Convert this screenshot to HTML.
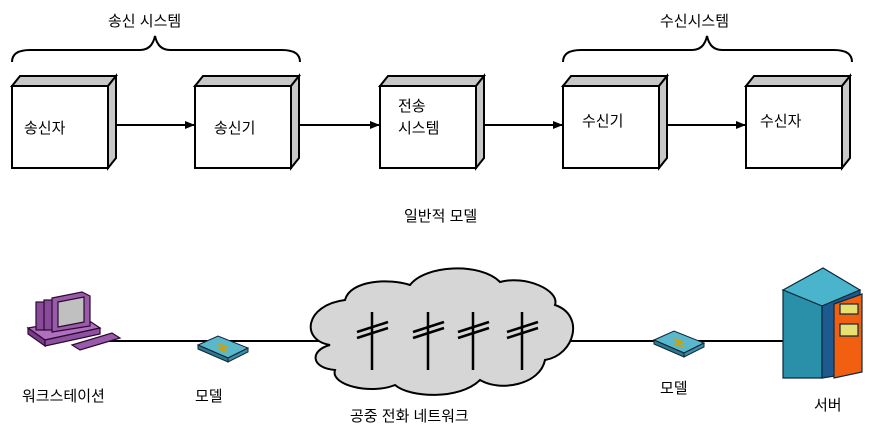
<!DOCTYPE html>
<html><head><meta charset="utf-8"><style>
body{margin:0;background:#fff}
svg text{font-family:"Liberation Sans","Noto Sans CJK KR",sans-serif;font-size:15px;fill:#000}
</style></head><body>
<svg width="880" height="431" viewBox="0 0 880 431" xmlns="http://www.w3.org/2000/svg">
<defs><marker id="a" markerWidth="10" markerHeight="8" refX="9" refY="4" orient="auto" markerUnits="userSpaceOnUse"><path d="M0,0L10,4L0,8z" fill="#000"/></marker></defs>
<g stroke="#000" stroke-width="2" fill="none">
<path d="M12,62 Q12,50 30,50 L140,50 Q152,50 155,36 Q158,50 170,50 L282,50 Q300,50 300,62"/>
<path d="M563,62 Q563,50 581,50 L692,50 Q704,50 707,36 Q710,50 722,50 L834,50 Q852,50 852,62"/>
</g>
<g stroke="#000" stroke-width="2">
<g id="b"><path d="M12,86 L20,76 L116,76 L108,86Z" fill="#c8c8c8"/><path d="M108,86 L116,76 L116,158 L108,168Z" fill="#c8c8c8"/><rect x="12" y="86" width="96" height="82" fill="#fff"/></g>
<use href="#b" x="183"/><use href="#b" x="368"/><use href="#b" x="551"/><use href="#b" x="734"/>
<line x1="116" y1="125" x2="194" y2="125" marker-end="url(#a)"/>
<line x1="299" y1="125" x2="379" y2="125" marker-end="url(#a)"/>
<line x1="484" y1="125" x2="562" y2="125" marker-end="url(#a)"/>
<line x1="667" y1="125" x2="745" y2="125" marker-end="url(#a)"/>
<line x1="100" y1="341" x2="790" y2="341"/>
</g>
<text x="108" y="26">송신 시스템</text>
<text x="660" y="26">수신시스템</text>
<text x="24" y="133">송신자</text>
<text x="214" y="133">송신기</text>
<text x="398" y="111">전송</text>
<text x="398" y="133">시스템</text>
<text x="582" y="126">수신기</text>
<text x="760" y="126">수신자</text>
<text x="404" y="221">일반적 모델</text>
<!-- cloud -->
<path d="M330,345 C300,340 305,305 345,300 C350,280 390,278 410,285 C425,265 480,262 500,282 C525,275 560,290 555,305 C585,315 575,355 545,360 C540,385 500,392 480,380 C460,400 410,398 395,385 C370,395 330,385 335,370 C310,368 310,350 330,345Z" fill="#d6d6d6" stroke="#000" stroke-width="2"/>
<g stroke="#000" stroke-width="2.5">
<g id="p"><line x1="372" y1="312" x2="372" y2="370"/><line x1="357" y1="332" x2="388" y2="322"/><line x1="357" y1="338" x2="388" y2="328"/></g>
<use href="#p" x="56"/><use href="#p" x="101"/><use href="#p" x="150"/>
</g>
<!-- workstation -->
<g stroke="#2a0a30" stroke-width="1.2">
<path d="M28,328 L85,318 L100,328 L45,340Z" fill="#b070c0"/>
<path d="M28,328 L45,340 L45,346 L28,334Z" fill="#7a3a8a"/>
<path d="M45,340 L100,328 L100,334 L45,346Z" fill="#9050a0"/>
<rect x="36" y="302" width="10" height="28" fill="#8a4a9a"/>
<rect x="44" y="300" width="10" height="30" fill="#8a4a9a"/>
<path d="M52,298 L82,292 L90,296 L90,326 L52,332Z" fill="#9a5aaa"/>
<path d="M58,302 L84,297 L84,322 L58,327Z" fill="#c0c0c0"/>
<path d="M72,345 L112,333 L120,338 L80,350Z" fill="#9a5aaa"/>
</g>
<!-- modems -->
<g id="m" stroke="#123" stroke-width="1">
<path d="M198,345 L218,336 L248,348 L228,358Z" fill="#5ab8cc"/>
<path d="M198,345 L228,358 L228,362 L198,349Z" fill="#2a7a90"/>
<path d="M228,358 L248,348 L248,352 L228,362Z" fill="#3a90a8"/>
<path d="M218,344 L226,347 L220,349 L228,352" stroke="#d4a000" stroke-width="2" fill="none"/>
</g>
<use href="#m" x="456" y="-5"/>
<!-- server -->
<g stroke="#0a2a3a" stroke-width="1.2">
<path d="M783,290 L823,268 L860,290 L822,306Z" fill="#4ab4cc"/>
<path d="M783,290 L822,306 L822,378 L783,378Z" fill="#2a90aa"/>
<path d="M822,306 L860,290 L860,372 L822,378Z" fill="#1e5a90"/>
<path d="M834,304 L862,294 L862,372 L834,378Z" fill="#f06010"/>
<rect x="840" y="304" width="18" height="10" fill="#e8e070"/>
<rect x="840" y="324" width="18" height="12" fill="#e8e070"/>
</g>
<text x="22" y="401">워크스테이션</text>
<text x="195" y="401">모델</text>
<text x="660" y="393">모델</text>
<text x="350" y="421">공중 전화 네트워크</text>
<text x="814" y="410">서버</text>
</svg>
</body></html>
